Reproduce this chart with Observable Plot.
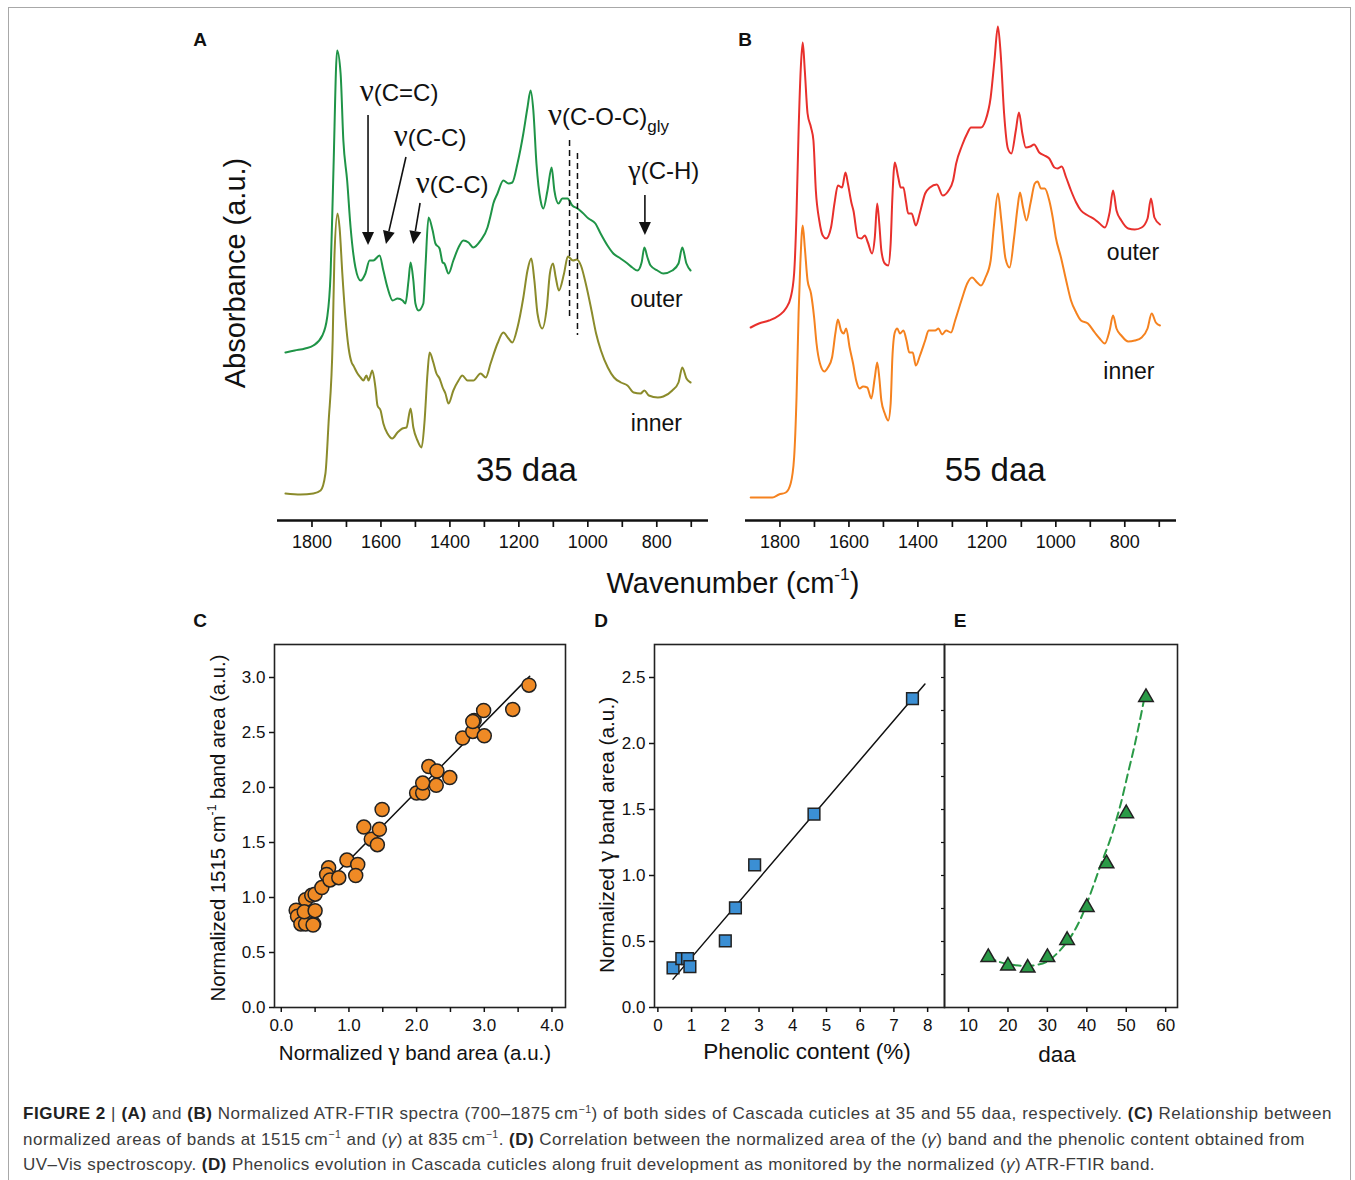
<!DOCTYPE html>
<html>
<head>
<meta charset="utf-8">
<script src="https://cdn.jsdelivr.net/npm/d3@7"></script>
<script src="https://cdn.jsdelivr.net/npm/@observablehq/plot@0.6"></script>
<style>
  body { margin: 0; background: #fff; }
  #fig { position: relative; width: 1355px; height: 1180px; overflow: hidden; background: #fff;
         font-family: 'Liberation Sans', Arial, Helvetica, sans-serif; color: #111; }
  .lbl { position: absolute; white-space: nowrap; line-height: 1; transform: translate(-50%, -50%); }
  .rot { transform: translate(-50%, -50%) rotate(-90deg); }
  .sup { font-size: 0.6em; position: relative; top: -0.75em; }
  .g { font-family: 'Liberation Serif', 'DejaVu Serif', serif; font-size: 1.25em; }
  .cap { position: absolute; left: 23px; white-space: nowrap; font-size: 17px; color: #3c3c3c; line-height: 1; }
  .cap b { color: #222; }
  .cap .s { font-size: 0.62em; position: relative; top: -0.6em; }
  #border { position: absolute; left: 8px; top: 7px; width: 1343px; height: 1200px;
            border: 1.5px solid #a8a8a8; border-bottom: none; box-sizing: border-box; }
</style>
</head>
<body>
<div id="fig"><div id="border"></div></div>
<script>
// ---------------- DATA ----------------
// Panel A: 35 daa spectra [wavenumber (cm-1), absorbance (a.u.)]
const outer35 = [[1877,1.48],[1850,1.50],[1820,1.52],[1796,1.55],[1770,1.65],[1756,1.83],[1746,2.27],[1738,3.27],[1727,4.50],[1717,4.27],[1709,3.60],[1698,3.20],[1688,2.73],[1674,2.33],[1659,2.20],[1645,2.27],[1633,2.40],[1622,2.40],[1604,2.45],[1593,2.30],[1581,2.13],[1566,2.00],[1552,2.02],[1537,2.00],[1529,1.97],[1520,2.20],[1514,2.38],[1506,2.20],[1500,1.97],[1491,1.90],[1477,1.97],[1471,2.33],[1462,2.83],[1450,2.70],[1442,2.57],[1430,2.52],[1421,2.38],[1416,2.37],[1404,2.27],[1390,2.40],[1375,2.53],[1361,2.60],[1346,2.58],[1332,2.53],[1311,2.60],[1291,2.73],[1282,2.85],[1274,2.97],[1262,3.07],[1245,3.20],[1230,3.17],[1219,3.18],[1204,3.37],[1187,3.67],[1175,3.93],[1166,4.10],[1158,3.90],[1149,3.37],[1137,3.00],[1129,2.92],[1117,3.10],[1105,3.33],[1097,3.10],[1085,2.97],[1074,3.02],[1059,3.02],[1045,2.95],[1030,2.92],[1016,2.88],[998,2.82],[978,2.77],[963,2.67],[943,2.55],[926,2.47],[905,2.42],[885,2.37],[871,2.33],[856,2.30],[844,2.38],[836,2.53],[827,2.43],[818,2.35],[798,2.30],[781,2.27],[755,2.30],[737,2.37],[726,2.53],[714,2.37],[702,2.30]];
const inner35 = [[1877,0.07],[1833,0.06],[1796,0.07],[1775,0.10],[1761,0.27],[1752,0.77],[1740,1.60],[1735,2.43],[1726,2.87],[1720,2.73],[1712,2.27],[1703,1.83],[1694,1.53],[1685,1.38],[1680,1.35],[1668,1.27],[1659,1.23],[1651,1.20],[1642,1.25],[1636,1.20],[1625,1.30],[1616,1.13],[1610,0.95],[1601,0.90],[1593,0.77],[1581,0.67],[1567,0.62],[1552,0.68],[1538,0.72],[1526,0.73],[1514,0.92],[1506,0.73],[1494,0.60],[1482,0.53],[1474,0.77],[1465,1.27],[1459,1.48],[1448,1.38],[1439,1.27],[1430,1.22],[1421,1.13],[1413,1.07],[1404,0.97],[1390,1.10],[1375,1.20],[1364,1.25],[1349,1.20],[1332,1.20],[1311,1.27],[1296,1.23],[1282,1.37],[1262,1.57],[1245,1.68],[1230,1.62],[1219,1.58],[1204,1.73],[1187,2.03],[1175,2.30],[1164,2.42],[1155,2.20],[1146,1.87],[1132,1.72],[1119,1.93],[1110,2.27],[1101,2.37],[1093,2.23],[1084,2.10],[1069,2.27],[1058,2.44],[1043,2.40],[1032,2.41],[1020,2.35],[1006,2.17],[991,1.93],[976,1.67],[962,1.50],[942,1.33],[924,1.23],[904,1.18],[885,1.15],[867,1.08],[847,1.07],[836,1.10],[823,1.05],[797,1.03],[781,1.04],[755,1.10],[737,1.18],[726,1.33],[714,1.22],[702,1.18]];
// Panel B: 55 daa spectra
const outer55 = [[1885,1.73],[1861,1.77],[1832,1.80],[1803,1.85],[1783,1.92],[1769,2.03],[1759,2.27],[1752,2.87],[1746,3.70],[1739,4.37],[1734,4.58],[1728,4.30],[1720,3.87],[1710,3.73],[1703,3.60],[1696,3.10],[1686,2.80],[1676,2.65],[1666,2.62],[1652,2.73],[1642,2.97],[1632,3.15],[1620,3.13],[1610,3.28],[1603,3.17],[1593,2.98],[1587,2.90],[1574,2.63],[1564,2.62],[1554,2.65],[1545,2.58],[1533,2.47],[1525,2.63],[1518,2.97],[1512,2.77],[1506,2.50],[1496,2.37],[1486,2.35],[1479,2.57],[1474,3.03],[1467,3.38],[1457,3.23],[1450,3.13],[1442,3.13],[1435,3.00],[1428,2.87],[1418,2.87],[1406,2.75],[1394,2.88],[1379,3.07],[1365,3.13],[1345,3.16],[1328,3.05],[1311,3.10],[1298,3.20],[1289,3.37],[1272,3.55],[1257,3.67],[1246,3.73],[1233,3.73],[1217,3.73],[1204,3.80],[1189,4.03],[1178,4.40],[1168,4.74],[1160,4.47],[1150,3.87],[1139,3.52],[1129,3.47],[1116,3.70],[1107,3.88],[1097,3.67],[1087,3.53],[1074,3.54],[1063,3.56],[1048,3.48],[1033,3.45],[1019,3.42],[1004,3.33],[995,3.32],[983,3.34],[970,3.23],[956,3.10],[941,2.98],[927,2.90],[907,2.85],[887,2.81],[873,2.77],[858,2.73],[844,2.88],[834,3.10],[824,2.90],[810,2.80],[790,2.72],[771,2.71],[751,2.73],[734,2.82],[724,3.02],[714,2.83],[698,2.76]];
const inner55 = [[1885,0.03],[1851,0.03],[1822,0.03],[1803,0.06],[1783,0.08],[1769,0.17],[1759,0.43],[1752,1.03],[1746,1.87],[1741,2.37],[1734,2.75],[1728,2.53],[1720,2.20],[1710,2.07],[1701,1.83],[1694,1.57],[1684,1.37],[1671,1.29],[1661,1.33],[1649,1.43],[1639,1.68],[1632,1.81],[1623,1.70],[1615,1.67],[1608,1.72],[1598,1.53],[1588,1.37],[1579,1.20],[1569,1.12],[1559,1.14],[1547,1.13],[1535,1.02],[1525,1.23],[1518,1.38],[1512,1.23],[1506,1.00],[1496,0.87],[1486,0.80],[1479,0.97],[1474,1.43],[1467,1.68],[1460,1.72],[1452,1.67],[1442,1.70],[1433,1.60],[1425,1.48],[1415,1.48],[1406,1.35],[1394,1.45],[1379,1.60],[1369,1.70],[1350,1.70],[1340,1.72],[1330,1.66],[1318,1.70],[1304,1.68],[1292,1.80],[1272,2.02],[1257,2.17],[1243,2.23],[1228,2.18],[1217,2.15],[1204,2.23],[1189,2.40],[1180,2.73],[1168,3.07],[1158,2.80],[1146,2.42],[1134,2.33],[1121,2.63],[1111,2.93],[1104,3.08],[1095,2.93],[1085,2.80],[1073,2.98],[1061,3.17],[1053,3.19],[1043,3.12],[1032,3.12],[1019,3.00],[1009,2.83],[1000,2.63],[985,2.43],[970,2.20],[956,2.00],[941,1.88],[927,1.80],[907,1.77],[887,1.68],[873,1.62],[858,1.57],[844,1.70],[834,1.85],[824,1.72],[810,1.65],[790,1.59],[771,1.60],[751,1.63],[734,1.72],[722,1.87],[710,1.78],[698,1.75]];
const spectraTicks = [700, 800, 900, 1000, 1100, 1200, 1300, 1400, 1500, 1600, 1700, 1800];
// glycerol C-O-C band markers (wavenumber, top, bottom absorbance)
const dashWn = [1053, 1030];
const dashTop = [3.60, 3.47];
const dashBottom = [1.80, 1.65];
// band annotation arrows: start/end (wavenumber, absorbance)
const arrowsA = [
  {wn1: 1636, a1: 3.85, wn2: 1636, a2: 2.55},
  {wn1: 1526, a1: 3.43, wn2: 1584, a2: 2.56},
  {wn1: 1485, a1: 2.97, wn2: 1505, a2: 2.56},
  {wn1: 833, a1: 3.05, wn2: 833, a2: 2.65}
];
const bandLabels = [
  {wn: 1546, a: 3.99, greek: "ν", text: "(C=C)", sub: "", anchor: "middle", gsize: 31},
  {wn: 1456, a: 3.54, greek: "ν", text: "(C-C)", sub: "", anchor: "middle", gsize: 31},
  {wn: 1392, a: 3.07, greek: "ν", text: "(C-C)", sub: "", anchor: "middle", gsize: 31},
  {wn: 1114, a: 3.75, greek: "ν", text: "(C-O-C)", sub: "gly", anchor: "start", gsize: 31},
  {wn: 778, a: 3.21, greek: "γ", text: "(C-H)", sub: "", anchor: "middle", gsize: 28}
];
const sideLabelsA = [{wn: 801, a: 2.01, t: "outer"}, {wn: 801, a: 0.77, t: "inner"}];
const sideLabelsB = [{wn: 776, a: 2.48, t: "outer"}, {wn: 788, a: 1.29, t: "inner"}];
const stageA = [{wn: 1178, a: 0.30, t: "35 daa"}];
const stageB = [{wn: 1176, a: 0.30, t: "55 daa"}];

// Panel C: normalized gamma band area vs normalized 1515 cm-1 band area
const cGamma = [0.22,0.24,0.29,0.36,0.36,0.34,0.45,0.48,0.47,0.50,0.50,0.60,0.70,0.67,0.72,0.85,0.97,1.13,1.10,1.22,1.33,1.42,1.45,1.49,2.00,2.09,2.09,2.18,2.30,2.29,2.49,2.68,2.83,2.85,2.83,2.99,3.00,3.42,3.66];
const c1515  = [0.885,0.83,0.76,0.76,0.98,0.87,1.02,0.76,0.75,0.88,1.03,1.09,1.27,1.21,1.16,1.18,1.34,1.30,1.20,1.64,1.53,1.48,1.62,1.80,1.95,1.95,2.04,2.19,2.15,2.02,2.09,2.45,2.51,2.61,2.60,2.70,2.47,2.71,2.93];
const cFitX = [0.30, 3.67];
const cFitY = [0.90, 3.01];

// Panel D: phenolic content (%) vs normalized gamma band area
const dPhenolic = [0.45, 0.71, 0.88, 0.95, 2.00, 2.30, 2.87, 4.63, 7.55];
const dGamma    = [0.30, 0.37, 0.37, 0.31, 0.505, 0.755, 1.08, 1.465, 2.34];
const dFitX = [0.45, 7.92];
const dFitY = [0.215, 2.45];

// Panel E: normalized gamma band vs days after anthesis
const eDaa   = [15, 20, 25, 30, 35, 40, 45, 50, 55];
const eGamma = [0.38, 0.315, 0.30, 0.38, 0.51, 0.76, 1.09, 1.47, 2.35];
const eFitDaa   = [14.9, 17.7, 20.8, 23.8, 26.8, 29.8, 32.8, 35.9, 38.4, 40.9, 43.4, 45.9, 48.4, 50.4, 52.0, 53.5, 54.5];
const eFitGamma = [0.38, 0.346, 0.326, 0.316, 0.32, 0.346, 0.42, 0.535, 0.67, 0.86, 1.07, 1.27, 1.52, 1.77, 1.97, 2.18, 2.33];

// ---------------- STYLE ----------------
const FONT = "'Liberation Sans', Arial, Helvetica, sans-serif";
const SERIF = "'Liberation Serif', 'DejaVu Serif', serif";
const C_GREEN = "#1f9447", C_OLIVE = "#8b8b2b", C_RED = "#e8302c", C_ORANGE = "#f5821f";
const C_DOT = "#ef8a25", C_SQ = "#3b8fd4", C_TRI = "#2a9a47";

const fig = document.getElementById("fig");
const toRows = arr => arr.map(([wn, a]) => ({wn, a}));
const zip = (xs, ys) => xs.map((x, i) => ({x, y: ys[i]}));

function place(svg, left, top) {
  svg.style.position = "absolute";
  svg.style.left = left + "px";
  svg.style.top = top + "px";
  fig.appendChild(svg);
}

function arrowRender(list) {
  return (index, scales) => {
    const g = d3.create("svg:g");
    for (const d of list) {
      const x1 = scales.x(d.wn1), y1 = scales.y(d.a1), x2 = scales.x(d.wn2), y2 = scales.y(d.a2);
      const ang = Math.atan2(y2 - y1, x2 - x1), L = 13, W = 6;
      const bx = x2 - L * Math.cos(ang), by = y2 - L * Math.sin(ang);
      g.append("line").attr("x1", x1).attr("y1", y1).attr("x2", bx).attr("y2", by)
        .attr("stroke", "#111").attr("stroke-width", 1.6);
      g.append("path")
        .attr("d", `M${x2},${y2}L${bx - W * Math.sin(ang)},${by + W * Math.cos(ang)}L${bx + W * Math.sin(ang)},${by - W * Math.cos(ang)}Z`)
        .attr("fill", "#111");
    }
    return g.node();
  };
}

function bandLabelRender(list) {
  return (index, scales) => {
    const g = d3.create("svg:g");
    for (const d of list) {
      const t = g.append("text").attr("x", scales.x(d.wn)).attr("y", scales.y(d.a))
        .attr("text-anchor", d.anchor).attr("font-family", FONT).attr("font-size", 24).attr("fill", "#111");
      t.append("tspan").attr("font-family", SERIF).attr("font-size", d.gsize).text(d.greek);
      t.append("tspan").text(d.text);
      if (d.sub) t.append("tspan").attr("font-size", 17).attr("dy", 7).text(d.sub);
    }
    return g.node();
  };
}

const yDomSpec = [-0.2, 4.8];
function spectraPlot(outer, inner, cOuter, cInner, extra) {
  return Plot.plot({
    width: 460, height: 560,
    marginLeft: 17, marginRight: 12, marginTop: 0, marginBottom: 60,
    x: {domain: [1900, 650], label: null},
    y: {domain: yDomSpec, axis: null, label: null},
    style: {fontFamily: FONT, fontSize: "18px", color: "#111", overflow: "visible", background: "none"},
    marks: [
      Plot.axisX({ticks: spectraTicks, tickSize: 7, tickPadding: 8, strokeWidth: 1.7,
        tickFormat: d => d % 200 === 0 ? String(d) : "", label: null}),
      Plot.ruleY([yDomSpec[0]], {stroke: "#111", strokeWidth: 2.6}),
      Plot.line(toRows(outer), {x: "wn", y: "a", stroke: cOuter, strokeWidth: 2, curve: "monotone-x"}),
      Plot.line(toRows(inner), {x: "wn", y: "a", stroke: cInner, strokeWidth: 2, curve: "monotone-x"}),
      ...extra
    ]
  });
}

// Panel A
const plotA = spectraPlot(outer35, inner35, C_GREEN, C_OLIVE, [
  Plot.ruleX(dashWn.map((w, i) => ({wn: w, a1: dashTop[i], a2: dashBottom[i]})),
    {x: "wn", y1: "a1", y2: "a2", stroke: "#111", strokeWidth: 1.5, strokeDasharray: "6,4"}),
  arrowRender(arrowsA),
  bandLabelRender(bandLabels),
  Plot.text(sideLabelsA, {x: "wn", y: "a", text: "t", fontSize: 23, fill: "#111"}),
  Plot.text(stageA, {x: "wn", y: "a", text: "t", fontSize: 33, fill: "#111"})
]);
place(plotA, 260, 20);

// Panel B
const plotB = spectraPlot(outer55, inner55, C_RED, C_ORANGE, [
  Plot.text(sideLabelsB, {x: "wn", y: "a", text: "t", fontSize: 23, fill: "#111"}),
  Plot.text(stageB, {x: "wn", y: "a", text: "t", fontSize: 33, fill: "#111"})
]);
place(plotB, 728, 20);

// Panel C
const plotC = Plot.plot({
  width: 400, height: 440, marginLeft: 94, marginRight: 15, marginTop: 14, marginBottom: 63,
  x: {domain: [-0.1, 4.2], label: null},
  y: {domain: [0, 3.3], label: null},
  style: {fontFamily: FONT, fontSize: "17px", color: "#111", overflow: "visible", background: "none"},
  marks: [
    Plot.frame({stroke: "#222", strokeWidth: 1.6}),
    Plot.axisX({ticks: d3.range(0, 4.01, 0.5), tickSize: 5, tickPadding: 6, strokeWidth: 1.5,
      tickFormat: d => Number.isInteger(d) ? d.toFixed(1) : "", label: null}),
    Plot.axisY({ticks: d3.range(0, 3.01, 0.5), tickSize: 5, tickPadding: 4, strokeWidth: 1.5,
      tickFormat: d => d.toFixed(1), label: null}),
    Plot.line(zip(cFitX, cFitY), {x: "x", y: "y", stroke: "#111", strokeWidth: 1.5}),
    Plot.dot(zip(cGamma, c1515), {x: "x", y: "y", r: 7, fill: C_DOT, stroke: "#222", strokeWidth: 1.5})
  ]
});
place(plotC, 180, 630);

// Panel D
const plotD = Plot.plot({
  width: 367, height: 440, marginLeft: 74, marginRight: 3, marginTop: 14, marginBottom: 63,
  x: {domain: [-0.1, 8.5], label: null},
  y: {domain: [0, 2.75], label: null},
  style: {fontFamily: FONT, fontSize: "17px", color: "#111", overflow: "visible", background: "none"},
  marks: [
    Plot.frame({stroke: "#222", strokeWidth: 1.6}),
    Plot.axisX({ticks: d3.range(0, 9, 1), tickSize: 5, tickPadding: 6, strokeWidth: 1.5, tickFormat: d => String(d), label: null}),
    Plot.axisY({ticks: d3.range(0, 2.51, 0.5), tickSize: 5, tickPadding: 4, strokeWidth: 1.5, tickFormat: d => d.toFixed(1), label: null}),
    Plot.line(zip(dFitX, dFitY), {x: "x", y: "y", stroke: "#111", strokeWidth: 1.5}),
    Plot.dot(zip(dPhenolic, dGamma), {x: "x", y: "y", symbol: "square", r: 6.6, fill: C_SQ, stroke: "#222", strokeWidth: 1.5})
  ]
});
place(plotD, 580, 630);

// Panel E
const plotE = Plot.plot({
  width: 250, height: 440, marginLeft: 2, marginRight: 15, marginTop: 14, marginBottom: 63,
  x: {domain: [3.9, 63], label: null},
  y: {domain: [0, 2.75], label: null},
  style: {fontFamily: FONT, fontSize: "17px", color: "#111", overflow: "visible", background: "none"},
  marks: [
    Plot.frame({stroke: "#222", strokeWidth: 1.6}),
    Plot.axisX({ticks: d3.range(10, 61, 10), tickSize: 5, tickPadding: 6, strokeWidth: 1.5, tickFormat: d => String(d), label: null}),
    Plot.axisY({ticks: d3.range(0.25, 2.51, 0.25), tickSize: 3, strokeWidth: 1.2, tickFormat: () => "", label: null}),
    Plot.line(zip(eFitDaa, eFitGamma), {x: "x", y: "y", stroke: C_TRI, strokeWidth: 2, strokeDasharray: "8,5", curve: "catmull-rom"}),
    Plot.dot(zip(eDaa, eGamma), {x: "x", y: "y", symbol: "triangle", r: 5.4, fill: C_TRI, stroke: "#222", strokeWidth: 1.5})
  ]
});
place(plotE, 942, 630);

// ---------------- TEXT ----------------
const labels = [
  {h: "A", x: 200, y: 39, s: 19, b: true},
  {h: "B", x: 745, y: 39, s: 19, b: true},
  {h: "C", x: 200, y: 620, s: 19, b: true},
  {h: "D", x: 601, y: 620, s: 19, b: true},
  {h: "E", x: 960, y: 620, s: 19, b: true},
  {h: "Absorbance (a.u.)", x: 235, y: 273, s: 29, r: true},
  {h: "Wavenumber (cm<span class='sup'>-1</span>)", x: 733, y: 583, s: 29},
  {h: "Normalized 1515 cm<span class='sup'>-1</span> band area (a.u.)", x: 218, y: 828, s: 20.3, r: true},
  {h: "Normalized <span class='g'>γ</span> band area (a.u.)", x: 415, y: 1052, s: 20.5},
  {h: "Normalized <span class='g'>γ</span> band area (a.u.)", x: 606, y: 835, s: 20.8, r: true},
  {h: "Phenolic content (%)", x: 807, y: 1052, s: 22.5},
  {h: "daa", x: 1057, y: 1055, s: 22.5}
];
for (const l of labels) {
  const d = document.createElement("div");
  d.className = "lbl" + (l.r ? " rot" : "");
  d.style.left = l.x + "px";
  d.style.top = l.y + "px";
  d.style.fontSize = l.s + "px";
  if (l.b) d.style.fontWeight = "bold";
  d.innerHTML = l.h;
  fig.appendChild(d);
}

const captionLines = [
  "<b>FIGURE 2</b> | <b>(A)</b> and <b>(B)</b> Normalized ATR-FTIR spectra (700–1875\u2009cm<span class='s'>−1</span>) of both sides of Cascada cuticles at 35 and 55 daa, respectively. <b>(C)</b> Relationship between",
  "normalized areas of bands at 1515\u2009cm<span class='s'>−1</span> and (<i>γ</i>) at 835\u2009cm<span class='s'>−1</span>. <b>(D)</b> Correlation between the normalized area of the (<i>γ</i>) band and the phenolic content obtained from",
  "UV–Vis spectroscopy. <b>(D)</b> Phenolics evolution in Cascada cuticles along fruit development as monitored by the normalized (<i>γ</i>) ATR-FTIR band."
];
const captionWidths = [1309, 1282, 1132];
captionLines.forEach((h, i) => {
  const d = document.createElement("div");
  d.className = "cap";
  d.style.top = (1105 + i * 25.5) + "px";
  d.innerHTML = h;
  fig.appendChild(d);
  const natural = d.getBoundingClientRect().width;
  const n = d.textContent.length;
  d.style.letterSpacing = ((captionWidths[i] - natural) / n).toFixed(3) + "px";
});
</script>
</body>
</html>
